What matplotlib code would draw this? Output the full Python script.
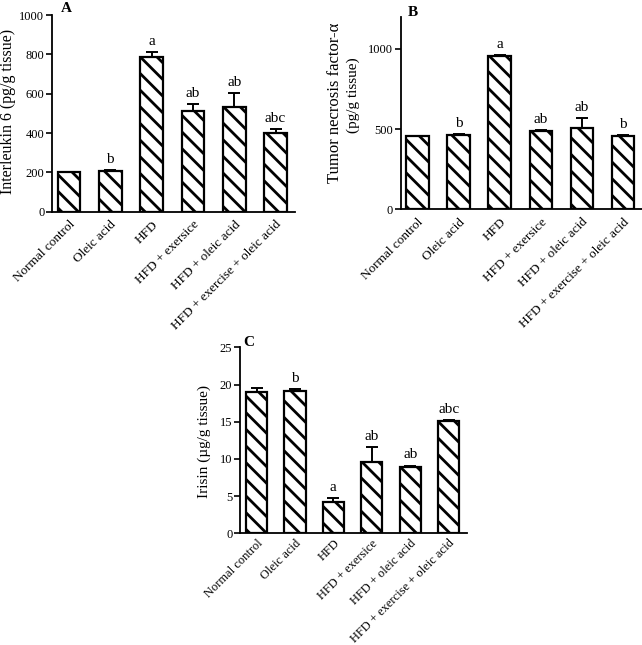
import matplotlib
matplotlib.use("Agg")
import matplotlib.pyplot as plt
import numpy as np

# groups (same for all three panels)
groups = ["Normal control", "Oleic acid", "HFD", "HFD + exersice",
          "HFD + oleic acid", "HFD + exercise + oleic acid"]

# A: interleukin 6
il6_mean = [200, 207, 787, 512, 534, 399]
il6_err = [3, 6, 26, 37, 68, 21]
il6_sig = ["", "b", "a", "ab", "ab", "abc"]

# B: TNF-alpha
tnf_mean = [455, 462, 954, 487, 505, 457]
tnf_err = [2, 8, 6, 8, 63, 5]
tnf_sig = ["", "b", "a", "ab", "ab", "b"]

# C: irisin
iri_mean = [18.95, 19.1, 4.25, 9.65, 8.95, 15.05]
iri_err = [0.6, 0.25, 0.45, 1.9, 0.15, 0.18]
iri_sig = ["", "b", "a", "ab", "ab", "abc"]

plt.rcParams["font.family"] = ["Liberation Serif", "DejaVu Serif"]
plt.rcParams["hatch.linewidth"] = 2.0
plt.rcParams["hatch.color"] = "black"

W, H = 642, 645
fig = plt.figure(figsize=(W / 100, H / 100), dpi=100)


def px_axes(l, t, r, b):
    return fig.add_axes([l / W, 1 - b / H, (r - l) / W, (b - t) / H])


def panel(ax, means, errs, sig, ylim, yticks, xlim, xfs, xpad):
    x = np.arange(len(groups))
    ax.bar(x, means, width=0.55, color="white", edgecolor="black",
           linewidth=1.6, hatch="\\\\", zorder=2)
    ax.errorbar(x, means, yerr=[np.zeros(len(errs)), errs], fmt="none",
                ecolor="black", elinewidth=1.4, capsize=4.5, capthick=1.4,
                zorder=3)
    for xi, m, e, s in zip(x, means, errs, sig):
        if s:
            ax.annotate(s, (xi, m + e), xytext=(0, 3), textcoords="offset points",
                        ha="center", va="bottom", fontsize=11)
    ax.set_xlim(*xlim)
    ax.set_ylim(*ylim)
    ax.set_yticks(yticks)
    ax.set_xticks(x)
    ax.set_xticklabels(groups, rotation=45, ha="right", rotation_mode="anchor",
                       fontsize=xfs)
    ax.tick_params(axis="x", length=0, pad=xpad)
    ax.tick_params(axis="y", length=4.5, width=1.2, labelsize=9, pad=1)
    for s in ["top", "right"]:
        ax.spines[s].set_visible(False)
    for s in ["left", "bottom"]:
        ax.spines[s].set_linewidth(1.3)


def vtext(x, y, s, fs):
    # rotated label, centred on a pixel position
    fig.text(x / W, 1 - y / H, s, rotation=90, fontsize=fs,
             ha="center", va="center")


axA = px_axes(52, 15, 295, 211.7)
panel(axA, il6_mean, il6_err, il6_sig, (0, 1000), [0, 200, 400, 600, 800, 1000],
      (-0.41, 5.47), 9.5, 5)
vtext(8.5, 111, "Interleukin 6 (pg/g tissue)", 11.5)

axB = px_axes(400.7, 16.7, 642, 209.3)
panel(axB, tnf_mean, tnf_err, tnf_sig, (0, 1200), [0, 500, 1000],
      (-0.41, 5.46), 9.5, 5)
vtext(335, 103, "Tumor necrosis factor-α", 12)
vtext(353, 95, "(pg/g tissue)", 11)

axC = px_axes(240, 347.3, 466.7, 533.3)
panel(axC, iri_mean, iri_err, iri_sig, (0, 25), [0, 5, 10, 15, 20, 25],
      (-0.43, 5.47), 9, 3)
vtext(204, 442, "Irisin (µg/g tissue)", 11)

fig.text(66 / W, 1 - 8 / H, "A", fontsize=11, fontweight="bold", ha="center", va="center")
fig.text(413 / W, 1 - 12 / H, "B", fontsize=11, fontweight="bold", ha="center", va="center")
fig.text(249 / W, 1 - 343 / H, "C", fontsize=11, fontweight="bold", ha="center", va="center")

fig.savefig("out.png", dpi=100, facecolor="white")
